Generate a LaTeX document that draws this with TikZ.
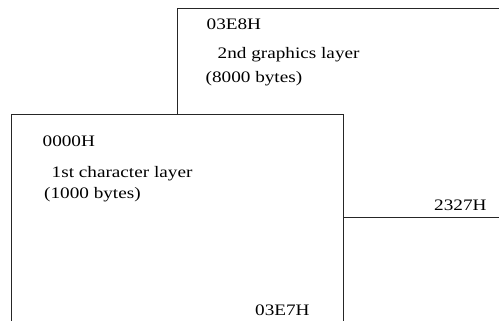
\documentclass[tikz,border=0pt]{standalone}
\usepackage{fontspec}
\setmainfont{Liberation Serif}
\newfontfamily\layerfont[FakeStretch=1.2]{Liberation Serif}
\usetikzlibrary{positioning,calc}
\tikzset{
 layer/.style={draw=black!85,line width=0.8pt},
 txt/.style={anchor=base west,inner sep=0pt,font=\layerfont\fontsize{16}{19}\selectfont},
}

\begin{document}
\begin{tikzpicture}[x=1pt,y=-1pt]
\useasboundingbox (0,0) rectangle (499,321);
% corners of the two layers
\coordinate (gtl) at (177,8);
\coordinate (gtr) at (499,8);
\coordinate (gbr) at (499,217);
\coordinate (ctl) at (11,114);
\coordinate (ctr) at (343,114);
\coordinate (cbl) at (11,321);
\coordinate (cbr) at (343,321);
% 2nd graphics layer (behind)
\draw[layer] (gtr) -- (gtl) -- (gtl |- ctl);
\draw[layer] (ctr |- gbr) -- (gbr);
% 1st character layer (front)
\draw[layer] (cbl) -- (ctl) -- (ctr) -- (cbr);
% texts
\node[txt] (gstart) at (206.5,30) {03E8H};
\node[txt] (gname) at (217.5,59) {2nd graphics layer};
\node[txt] (gsize) at (205.5,83) {(8000 bytes)};
\node[txt] (cstart) at (42.5,146.5) {0000H};
\node[txt] (cname) at (51.5,178) {1st character layer};
\node[txt] (csize) at (44,198) {(1000 bytes)};
\node[txt] (cend) at (255,315) {03E7H};
\node[txt] (gend) at (434,210.5) {2327H};
\end{tikzpicture}
\end{document}
